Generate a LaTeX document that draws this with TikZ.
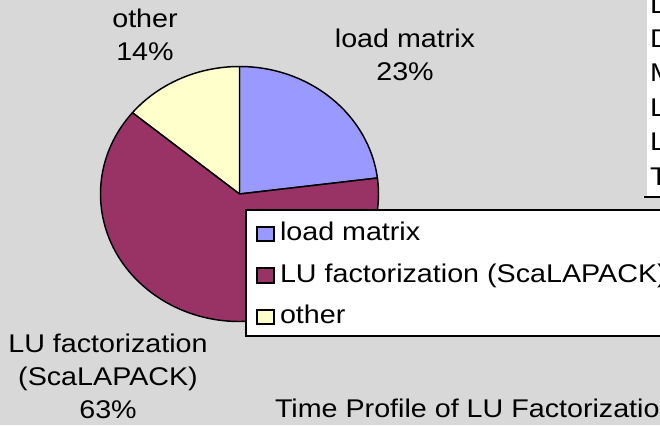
\documentclass[tikz,border=0pt]{standalone}
\usepackage{fontspec}
\setmainfont{Liberation Sans}[FakeStretch=1.12]
\definecolor{bg}{RGB}{216,216,216}
\definecolor{lmcol}{RGB}{153,153,255}
\definecolor{lucol}{RGB}{153,51,102}
\definecolor{otcol}{RGB}{255,255,204}
\begin{document}
\begin{tikzpicture}[x=0.75pt,y=0.75pt,
  every node/.style={inner sep=0pt, outer sep=0pt, font=\fontsize{19.2}{24}\selectfont},
  slice/.style={draw=black, line width=1.1pt, line join=round},
  lbl/.style={anchor=base},
  legtxt/.style={anchor=base west},
  legsq/.style={draw=black, line width=0.9pt},
  legbox/.style={draw=black, fill=white, line width=1.2pt}]
\useasboundingbox (0,0) rectangle (660,-425);
\clip (0,0) rectangle (660,-425);
\fill[bg] (0,0) rectangle (660,-425);

% right panel (cut off)
\fill[white] (647,0) rectangle (660,-197);
\coordinate (rl1) at (644,-197);
\coordinate (rl2) at (660,-197);
\draw[line width=1.4pt] (rl1) -- (rl2);
\node[legtxt] (r1) at (650,-13) {L};
\node[legtxt] (r2) at (650,-47.4) {D};
\node[legtxt] (r3) at (650,-81.8) {M};
\node[legtxt] (r4) at (650,-116.2) {L};
\node[legtxt] (r5) at (650,-150.6) {L};
\node[legtxt] (r6) at (650,-185) {T};

% pie
\coordinate (c) at (239.5,-194);
\path[slice, fill=lmcol] (c) -- +(0,127.5) arc[start angle=90, end angle=7.2, x radius=139, y radius=127.5] -- cycle;
\path[slice, fill=otcol] (c) -- +(0,127.5) arc[start angle=90, end angle=140.4, x radius=139, y radius=127.5] -- cycle;
\path[slice, fill=lucol] (c) -- +(140.4:139 and 127.5) arc[start angle=140.4, end angle=367.2, x radius=139, y radius=127.5] -- cycle;

% slice labels
\node[lbl] (ot1) at (145,-27) {other};
\node[lbl] (ot2) at (145,-60) {14\%};
\node[lbl] (lm1) at (405,-47) {load matrix};
\node[lbl] (lm2) at (405,-80) {23\%};
\node[lbl] (lu1) at (108,-352) {LU factorization};
\node[lbl] (lu2) at (108,-385) {(ScaLAPACK)};
\node[lbl] (lu3) at (108,-418) {63\%};

% legend
\path[legbox] (246,-210) rectangle (700,-336);
\path[legsq, fill=lmcol] (257,-227) rectangle (274,-241);
\path[legsq, fill=lucol] (257,-268) rectangle (274,-283);
\path[legsq, fill=otcol] (257,-310) rectangle (274,-324);
\node[legtxt] (lg1) at (280,-240) {load matrix};
\node[legtxt] (lg2) at (280,-282) {LU factorization (ScaLAPACK)};
\node[legtxt] (lg3) at (280,-323) {other};

% title (cut off at right)
\node[legtxt] (title) at (275,-417) {Time Profile of LU Factorization};
\end{tikzpicture}
\end{document}
